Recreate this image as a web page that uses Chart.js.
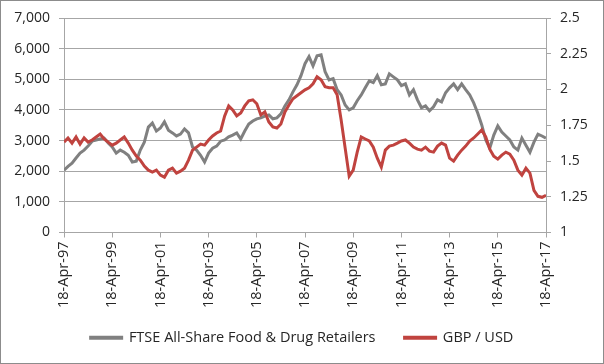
<!DOCTYPE html>
<html>
<head>
<meta charset="utf-8">
<script src="https://cdn.jsdelivr.net/npm/chart.js@4.4.1/dist/chart.umd.min.js"></script>
<style>
    body { margin: 0; background: #ffffff; }
    #box { width: 604px; height: 364px; }
</style>
</head>
<body>
<div id="box"><canvas id="lineCanvas" width="604" height="364"></canvas></div>
<script>
// dates des points (le 18 du mois, tous les 2 mois)
let dates = [
    "1997-04", "1997-06", "1997-08", "1997-10", "1997-12", "1998-02",
    "1998-04", "1998-06", "1998-08", "1998-10", "1998-12", "1999-02",
    "1999-04", "1999-06", "1999-08", "1999-10", "1999-12", "2000-02",
    "2000-04", "2000-06", "2000-08", "2000-10", "2000-12", "2001-02",
    "2001-04", "2001-06", "2001-08", "2001-10", "2001-12", "2002-02",
    "2002-04", "2002-06", "2002-08", "2002-10", "2002-12", "2003-02",
    "2003-04", "2003-06", "2003-08", "2003-10", "2003-12", "2004-02",
    "2004-04", "2004-06", "2004-08", "2004-10", "2004-12", "2005-02",
    "2005-04", "2005-06", "2005-08", "2005-10", "2005-12", "2006-02",
    "2006-04", "2006-06", "2006-08", "2006-10", "2006-12", "2007-02",
    "2007-04", "2007-06", "2007-08", "2007-10", "2007-12", "2008-02",
    "2008-04", "2008-06", "2008-08", "2008-10", "2008-12", "2009-02",
    "2009-04", "2009-06", "2009-08", "2009-10", "2009-12", "2010-02",
    "2010-04", "2010-06", "2010-08", "2010-10", "2010-12", "2011-02",
    "2011-04", "2011-06", "2011-08", "2011-10", "2011-12", "2012-02",
    "2012-04", "2012-06", "2012-08", "2012-10", "2012-12", "2013-02",
    "2013-04", "2013-06", "2013-08", "2013-10", "2013-12", "2014-02",
    "2014-04", "2014-06", "2014-08", "2014-10", "2014-12", "2015-02",
    "2015-04", "2015-06", "2015-08", "2015-10", "2015-12", "2016-02",
    "2016-04", "2016-06", "2016-08", "2016-10", "2016-12", "2017-02",
    "2017-04"
]

// FTSE All-Share Food & Drug Retailers (axe de gauche)
let ftseFood = [
    2030, 2160, 2260, 2430, 2590, 2690, 2820, 2980, 3020, 3050,
    3080, 2920, 2790, 2590, 2690, 2620, 2520, 2300, 2330, 2690,
    2950, 3440, 3570, 3310, 3410, 3610, 3340, 3250, 3150, 3210,
    3380, 3250, 2790, 2690, 2520, 2300, 2590, 2750, 2820, 2980,
    3020, 3120, 3180, 3250, 3050, 3310, 3540, 3640, 3710, 3740,
    3800, 3840, 3710, 3740, 3870, 4130, 4330, 4590, 4820, 5120,
    5510, 5740, 5440, 5770, 5800, 5250, 4980, 5020, 4660, 4490,
    4160, 4000, 4070, 4300, 4490, 4720, 4950, 4890, 5120, 4820,
    4850, 5180, 5080, 4980, 4790, 4850, 4490, 4660, 4330, 4070,
    4130, 3970, 4100, 4330, 4260, 4560, 4720, 4850, 4660, 4850,
    4660, 4490, 4230, 3900, 3510, 3020, 2750, 3180, 3480, 3280,
    3150, 3020, 2790, 2690, 3080, 2850, 2620, 2950, 3210, 3150,
    3080
]

// GBP / USD (axe de droite)
let gbpUsd = [
    1.632, 1.661, 1.625, 1.668, 1.618, 1.661, 1.632, 1.647, 1.668, 1.689,
    1.654, 1.632, 1.611, 1.625, 1.647, 1.668, 1.625, 1.576, 1.534, 1.506,
    1.464, 1.436, 1.422, 1.436, 1.401, 1.387, 1.436, 1.450, 1.415, 1.429,
    1.450, 1.506, 1.576, 1.597, 1.618, 1.611, 1.647, 1.675, 1.696, 1.710,
    1.815, 1.885, 1.857, 1.815, 1.836, 1.885, 1.921, 1.928, 1.900, 1.822,
    1.843, 1.773, 1.738, 1.731, 1.759, 1.843, 1.892, 1.935, 1.956, 1.977,
    1.998, 2.012, 2.040, 2.089, 2.068, 2.019, 2.012, 2.012, 1.963, 1.787,
    1.590, 1.394, 1.436, 1.562, 1.668, 1.654, 1.640, 1.597, 1.520, 1.457,
    1.576, 1.604, 1.611, 1.625, 1.640, 1.647, 1.625, 1.597, 1.583, 1.576,
    1.597, 1.569, 1.562, 1.604, 1.625, 1.611, 1.520, 1.499, 1.541, 1.576,
    1.604, 1.640, 1.661, 1.689, 1.717, 1.668, 1.583, 1.534, 1.513, 1.541,
    1.562, 1.548, 1.506, 1.436, 1.401, 1.450, 1.415, 1.295, 1.253, 1.246,
    1.260
]

// graduations de l'axe des abscisses
let tickDates = ["1997-04", "1999-04", "2001-04", "2003-04", "2005-04", "2007-04",
                 "2009-04", "2011-04", "2013-04", "2015-04", "2017-04"]
let tickLabels = ["18-Apr-97", "18-Apr-99", "18-Apr-01", "18-Apr-03", "18-Apr-05", "18-Apr-07",
                  "18-Apr-09", "18-Apr-11", "18-Apr-13", "18-Apr-15", "18-Apr-17"]

// "AAAA-MM" -> annee decimale (jour 18)
function versAnnee(d) {
    let parts = d.split("-")
    return Number(parts[0]) + (Number(parts[1]) - 1) / 12 + 17 / 365
}

function Initialisation() {
    let CouleurGris = "#808080"
    let CouleurRouge = "#c0433f"
    let CouleurGrille = "#a6a6a6"
    let CouleurTexte = "#262626"
    let police = { family: "'Open Sans', sans-serif", size: 14.5 }
    let policeY = { family: "'Open Sans', sans-serif", size: 14 }

    // cadre gris autour du graphique
    const cadre = {
        id: "cadre",
        afterDraw(chart) {
            let ctx = chart.ctx
            ctx.save()
            ctx.strokeStyle = "#8c8c8c"
            ctx.lineWidth = 1
            ctx.strokeRect(0.5, 0.5, chart.width - 1, chart.height - 1)
            ctx.restore()
        }
    }

    const lineCanvas = document.getElementById("lineCanvas")
    const lineChart = new Chart(lineCanvas, {
        type: "line",
        data: {
            datasets: [{
                label: "FTSE All-Share Food & Drug Retailers",
                data: dates.map((d, i) => ({ x: versAnnee(d), y: ftseFood[i] })),
                borderColor: CouleurGris,
                backgroundColor: CouleurGris,
                borderWidth: 3,
                pointRadius: 0,
                yAxisID: "y",
                order: 1
            }, {
                label: "GBP / USD",
                data: dates.map((d, i) => ({ x: versAnnee(d), y: gbpUsd[i] })),
                borderColor: CouleurRouge,
                backgroundColor: CouleurRouge,
                borderWidth: 3,
                pointRadius: 0,
                yAxisID: "y1",
                order: 0 // rouge par dessus le gris
            }]
        },
        options: {
            responsive: false,
            animation: false,
            layout: { padding: { top: 18, bottom: 9, left: 0, right: 0 } },
            plugins: {
                tooltip: { enabled: false },
                legend: {
                    position: "bottom",
                    labels: {
                        boxWidth: 31,
                        boxHeight: 1,
                        padding: 14,
                        color: CouleurTexte,
                        font: police,
                        sort: (a, b) => a.datasetIndex - b.datasetIndex, // ordre des series
                        // un peu plus d'espace apres le premier libelle
                        generateLabels: (chart) => {
                            let items = Chart.defaults.plugins.legend.labels.generateLabels(chart)
                            items.forEach(it => { if (it.datasetIndex === 0) it.text = it.text + "    " })
                            return items
                        }
                    }
                }
            },
            scales: {
                x: {
                    type: "linear",
                    min: versAnnee("1997-04"),
                    max: versAnnee("2017-04"),
                    afterBuildTicks: (scale) => {
                        scale.ticks = tickDates.map(d => ({ value: versAnnee(d) }))
                    },
                    afterFit: (scale) => { scale.height = 84 },
                    grid: { drawOnChartArea: false, tickLength: 5, color: CouleurGrille },
                    border: { color: CouleurGrille },
                    ticks: {
                        autoSkip: false,
                        minRotation: 90,
                        maxRotation: 90,
                        padding: 4,
                        color: CouleurTexte,
                        font: police,
                        callback: (value, index) => tickLabels[index]
                    }
                },
                y: {
                    position: "left",
                    min: 0,
                    max: 7000,
                    afterFit: (scale) => { scale.width = 64 },
                    grid: { color: CouleurGrille, tickLength: 5 },
                    border: { color: CouleurGrille },
                    ticks: {
                        stepSize: 1000,
                        padding: 9,
                        color: CouleurTexte,
                        font: policeY,
                        callback: (value) => value.toLocaleString("en-US")
                    }
                },
                y1: {
                    position: "right",
                    min: 1,
                    max: 2.5,
                    afterFit: (scale) => { scale.width = 58 },
                    grid: { drawOnChartArea: false, color: CouleurGrille, tickLength: 5 },
                    border: { color: CouleurGrille },
                    ticks: {
                        stepSize: 0.25,
                        padding: 9,
                        color: CouleurTexte,
                        font: policeY,
                        callback: (value) => String(value)
                    }
                }
            }
        },
        plugins: [cadre]
    })
}

window.addEventListener("DOMContentLoaded", () => {
    Initialisation()
})
</script>
</body>
</html>
